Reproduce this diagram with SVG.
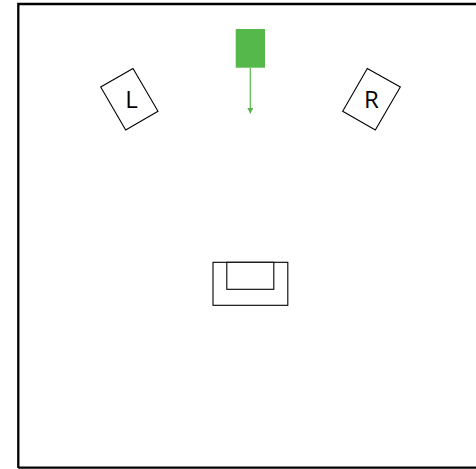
<svg xmlns="http://www.w3.org/2000/svg" width="476" height="469" viewBox="0 0 476 469">
<style>
.o{fill:#fff;stroke:#000;stroke-width:1.1}
.t{font-family:"Open Sans","Liberation Sans",sans-serif;font-size:24px;fill:#000;text-anchor:middle}
</style>
<defs>
<marker id="a" markerUnits="userSpaceOnUse" markerWidth="6" markerHeight="6" refX="5.500" refY="3" orient="auto" viewBox="0 0 6 6"><path d="M0 0L6 3L0 6Z" fill="#55b84a"/></marker>
</defs>
<rect width="476" height="469" fill="#fff"/>
<g id="room"><path d="M18.300 468V4H476M18.300 467.700H476" fill="none" stroke="#000" stroke-width="2.300"/></g>
<g id="speaker-l"><path class="o" d="M133 68.500L100.700 87L125.700 130L158 111.300Z"/><text class="t" x="131.500" y="107.500">L</text></g>
<g id="speaker-r"><path class="o" d="M367.300 68.500L400.300 87L375.300 130L342.700 111.300Z"/><text class="t" x="371.500" y="108">R</text></g>
<g id="source"><rect x="235.700" y="29" width="29.300" height="38.700" fill="#55b84a"/></g>
<g id="sofa"><rect class="o" x="213" y="262.300" width="74.800" height="43"/><rect class="o" x="226.800" y="262.300" width="47" height="27"/></g>
<g id="connectors"><line x1="250.300" y1="67.700" x2="250.300" y2="113.300" stroke="#55b84a" stroke-width="1.200" marker-end="url(#a)"/></g>
</svg>
